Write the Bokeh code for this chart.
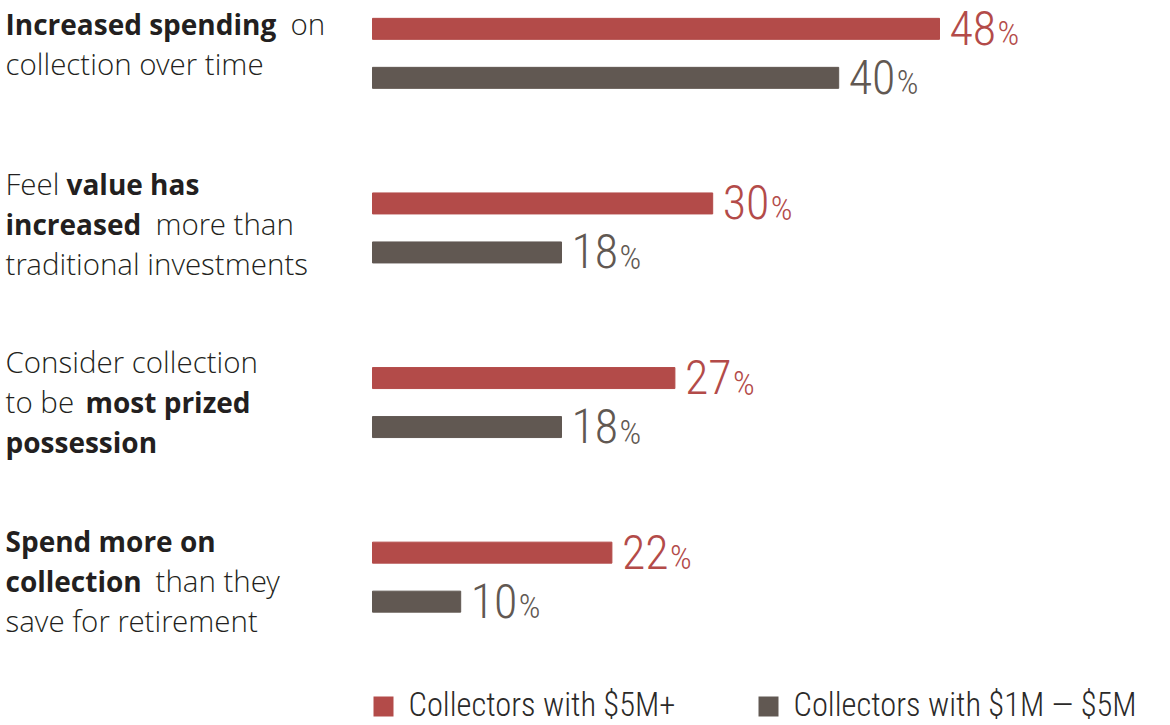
from bokeh.plotting import figure
from bokeh.models import Range1d, ColumnDataSource
from bokeh.core.properties import value
from bokeh.embed import file_html
from bokeh.resources import INLINE

# ---------------- data ----------------
# each category: list of lines, each line: list of (text, is_bold)
categories = [
    [[("Increased spending", True), ("on", False)],
     [("collection over time", False)]],
    [[("Feel", False), ("value has", True)],
     [("increased", True), ("more than", False)],
     [("traditional investments", False)]],
    [[("Consider collection", False)],
     [("to be", False), ("most prized", True)],
     [("possession", True)]],
    [[("Spend more on", True)],
     [("collection", True), ("than they", False)],
     [("save for retirement", False)]],
]
collectors_5m_plus = [48, 30, 27, 22]
collectors_1m_5m = [40, 18, 18, 10]
series_names = ["Collectors with $5M+", "Collectors with $1M \u2014 $5M"]

# ---------------- layout / style ----------------
W, H = 1170, 725
SCALE = 12.6          # px per percentage point
BASE = 3.0            # value at the bar baseline
BASE_PX = 372
XMIN = BASE - BASE_PX / SCALE
XMAX = XMIN + W / SCALE

def px2x(px):
    return XMIN + px / SCALE

RED = "#b34b49"
GREY = "#615852"
TXT = "#231f20"
BOLD_FONT = "Open Sans"
LIGHT_FONT = "Open Sans Light"
NUM_FONT = "Roboto Condensed Light"

SEG_X = [[[7, 292], [7]], [[7, 68], [7, 157], [7]], [[7], [7, 87], [7]], [[7], [7, 157], [7]]]
TEXT_MID = [[23, 63], [183, 223, 263], [361, 401, 441], [540, 580, 620]]

p = figure(width=W, height=H, x_range=Range1d(XMIN, XMAX), y_range=Range1d(H, 0),
           x_axis_type=None, y_axis_type=None, toolbar_location=None,
           output_backend="svg", min_border=0, outline_line_color=None,
           background_fill_color="white", border_fill_color="white")
p.grid.visible = False

n = len(categories)
centers = [52.85 + 174.6 * i for i in range(n)]
y_red = [c - 24.5 for c in centers]
y_grey = [c + 24.5 for c in centers]

src = ColumnDataSource(dict(y_red=y_red, y_grey=y_grey, a=collectors_5m_plus, b=collectors_1m_5m,
                            la=[str(v) for v in collectors_5m_plus], lb=[str(v) for v in collectors_1m_5m],
                            pct=["%"] * n,
                            ya=[y - 1 for y in y_red], yb=[y - 1 for y in y_grey],
                            pa=[y + 4.5 for y in y_red], pb=[y + 4.5 for y in y_grey]))
p.hbar(y="y_red", left=BASE, right="a", height=21, color=RED, source=src)
p.hbar(y="y_grey", left=BASE, right="b", height=21, color=GREY, source=src)

DIG_W = 23.5
for col, ycol, pcol, lab, color in [("a", "ya", "pa", "la", RED), ("b", "yb", "pb", "lb", GREY)]:
    p.text(x=col, y=ycol, text=lab, x_offset=10, source=src, text_font=value(NUM_FONT),
           text_font_size="48px", text_color=color, text_baseline="middle", text_align="left")
    p.text(x=col, y=pcol, text="pct", x_offset=10 + 2 * DIG_W + 1, source=src,
           text_font=value(NUM_FONT), text_font_size="34px", text_color=color,
           text_baseline="middle", text_align="left")

# category labels
for i, lines in enumerate(categories):
    for k, segs in enumerate(lines):
        for j, (t, bold) in enumerate(segs):
            p.text(x=[XMIN], y=[TEXT_MID[i][k]], text=[t], x_offset=SEG_X[i][k][j] - 2,
                   text_font=value(BOLD_FONT if bold else LIGHT_FONT),
                   text_font_size="28px" if bold else "29.5px",
                   text_font_style="bold" if bold else "normal",
                   text_color=TXT, text_baseline="middle", text_align="left")

# legend
for name, color, sq_px, tx_px in [(series_names[0], RED, 383, 408), (series_names[1], GREY, 768, 793)]:
    p.scatter(x=[px2x(sq_px)], y=[706], marker="square", size=20, color=color, line_color=None)
    p.text(x=[px2x(tx_px)], y=[704], text=[name], text_font=value(NUM_FONT), text_font_size="32.5px",
           text_color="#2b2a29", text_baseline="middle", text_align="left")

open("out.html", "w").write(file_html(p, INLINE))
